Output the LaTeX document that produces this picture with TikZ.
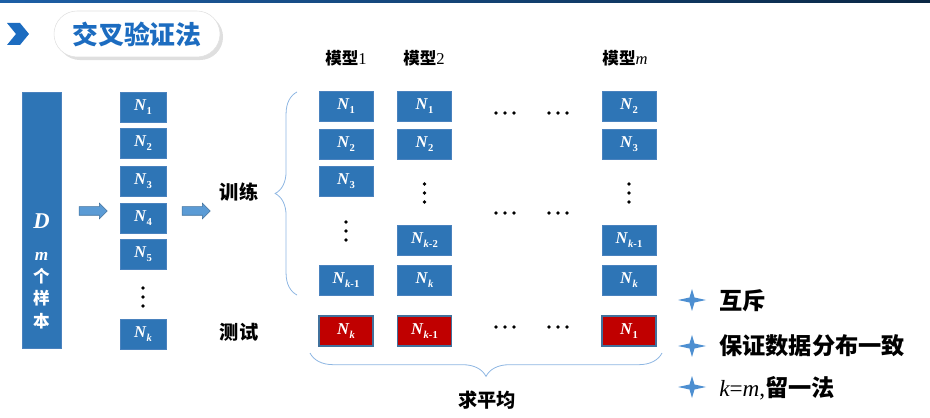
\documentclass[tikz,border=0pt]{standalone}
\usepackage{fontspec}
\setmainfont{Liberation Serif}
\newfontfamily\cjk{Noto Sans CJK SC}
\usetikzlibrary{shapes.arrows,decorations.pathreplacing,shadows}

\definecolor{boxblue}{HTML}{2E75B6}
\definecolor{boxedge}{HTML}{4A82BE}
\definecolor{testred}{HTML}{C00000}
\definecolor{testedge}{HTML}{41719C}
\definecolor{arrowblue}{HTML}{5B9BD5}
\definecolor{bracecol}{HTML}{8DB6E2}
\definecolor{titleblue}{HTML}{1C6CC0}
\definecolor{topbar}{HTML}{1D5FA6}
\definecolor{topdark}{HTML}{0A2744}
\definecolor{starblue}{HTML}{4D8FD1}

% N with a subscript, bold italic as on the slide
\newcommand{\Nsub}[1]{\textbf{\textit{N}}\raisebox{-0.45ex}{\fontsize{8}{8}\selectfont\bfseries #1}}

\begin{document}
\begin{tikzpicture}[x=0.0265cm,y=-0.0265cm,
  nbox/.style={draw=boxedge,fill=boxblue,text=white,inner sep=0pt,
    minimum width=46*0.0265cm,minimum height=30*0.0265cm,
    font=\fontsize{12.5}{12.5}\selectfont},
  mbox/.style={nbox,minimum width=54*0.0265cm},
  tbox/.style={mbox,fill=testred,draw=testedge,line width=0.9pt},
  cjklab/.style={font=\cjk\bfseries\fontsize{14.5}{15}\selectfont},
  modlab/.style={font=\fontsize{12.5}{12.5}\selectfont},
  barlab/.style={text=white,font=\cjk\bfseries\fontsize{12.5}{12.5}\selectfont},
  bullettxt/.style={anchor=west,inner sep=0pt,font=\cjk\bfseries\fontsize{17.5}{18}\selectfont},
  fatarrow/.style={single arrow,draw=testedge,fill=arrowblue,inner sep=4*0.0265cm,
    minimum width=15*0.0265cm,minimum height=28*0.0265cm,
    single arrow head extend=3.5*0.0265cm,single arrow tip angle=90},
  brace/.style={draw=bracecol,line width=0.6pt,decorate},
  dot/.style={fill=black}
]
\useasboundingbox (0,0) rectangle (930,418);

% top strip and title
\shade[left color=topbar,right color=topdark] (0,0) rectangle (930,3);
\fill[titleblue] (7,23) -- (20,23) -- (29,34) -- (20,45) -- (7,45) -- (16,34) -- cycle;
\node[draw=black!12,fill=white,rounded corners=23*0.0265cm,drop shadow={opacity=0.25},
  minimum width=166*0.0265cm,minimum height=46*0.0265cm,text=titleblue,
  font=\cjk\bfseries\fontsize{19.5}{20}\selectfont] (title) at (137,34) {交叉验证法};

% the data set D
\node[nbox,minimum width=39*0.0265cm,minimum height=256*0.0265cm] (data) at (41.5,220) {};
\node[text=white,font=\fontsize{17}{17}\selectfont\bfseries\itshape] (dlab) at (41.5,221) {D};
\node[text=white,font=\fontsize{13}{13}\selectfont\bfseries\itshape] (mlab) at (41.5,256) {m};
\node[barlab] (c1) at (41.5,276) {个};
\node[barlab] (c2) at (41.5,298) {样};
\node[barlab] (c3) at (41.5,321) {本};

\node[fatarrow] (arr1) at (91,211) {};
\node[fatarrow] (arr2) at (194,211) {};

% split into k parts
\node[nbox] (p1) at (143,107) {\Nsub{1}};
\node[nbox] (p2) at (143,143) {\Nsub{2}};
\node[nbox] (p3) at (143,181) {\Nsub{3}};
\node[nbox] (p4) at (143,218) {\Nsub{4}};
\node[nbox] (p5) at (143,254) {\Nsub{5}};
\node[nbox] (pk) at (143,334) {\Nsub{\textit{k}}};

\node[cjklab] (train) at (239,192) {训练};
\node[cjklab] (test) at (239,332) {测试};
\draw[brace,decoration={brace,amplitude=0.58cm}] (297,295) -- (297,92);

% model columns
\node[modlab] (mod1) at (346,58) {{\cjk\bfseries 模型}1};
\node[modlab] (mod2) at (424,58) {{\cjk\bfseries 模型}2};
\node[modlab] (modm) at (625,58) {{\cjk\bfseries 模型}\textit{m}};

\node[mbox] (a1) at (346,106) {\Nsub{1}};
\node[mbox] (a2) at (346,144) {\Nsub{2}};
\node[mbox] (a3) at (346,181) {\Nsub{3}};
\node[mbox] (ak1) at (346,280) {\Nsub{\textit{k}-1}};
\node[tbox] (at) at (346,331) {\Nsub{\textit{k}}};

\node[mbox] (b1) at (424.5,106) {\Nsub{1}};
\node[mbox] (b2) at (424.5,144) {\Nsub{2}};
\node[mbox] (bk2) at (424.5,240) {\Nsub{\textit{k}-2}};
\node[mbox] (bk) at (424.5,280) {\Nsub{\textit{k}}};
\node[tbox] (bt) at (424.5,331) {\Nsub{\textit{k}-1}};

\node[mbox] (m2) at (629,106) {\Nsub{2}};
\node[mbox] (m3) at (629,144) {\Nsub{3}};
\node[mbox] (mk1) at (629,240) {\Nsub{\textit{k}-1}};
\node[mbox] (mk) at (629,280) {\Nsub{\textit{k}}};
\node[tbox] (mt) at (629,331) {\Nsub{1}};

% dots
\foreach \x/\y in {143/297,346/231,424.5/193,629/193}
  \foreach \d in {-9,0,9}
    \fill[dot] (\x,\y+\d) circle[radius=1.9];
\foreach \x in {505,558}
  \foreach \y in {113,213,327}
    \foreach \d in {-9,0,9}
      \fill[dot] (\x+\d,\y) circle[radius=1.9];

\draw[brace,decoration={brace,amplitude=0.62cm}] (662,353) -- (310,353);
\node[cjklab] (avg) at (487,400) {求平均};

% notes on the right
\foreach \y in {300,346,387}
  \fill[starblue,shift={(692,\y)}] (-14,0) -- (-2.5,-2.5) -- (0,-11) -- (2.5,-2.5)
    -- (14,0) -- (2.5,2.5) -- (0,11) -- (-2.5,2.5) -- cycle;
\node[bullettxt] (n1) at (719,301) {互斥};
\node[bullettxt] (n2) at (719,346) {保证数据分布一致};
\node[bullettxt] (n3) at (719,388) {{\rmfamily\mdseries\itshape k}{\rmfamily\mdseries =}{\rmfamily\mdseries\itshape m}{\rmfamily\mdseries ,}留一法};
\end{tikzpicture}
\end{document}
